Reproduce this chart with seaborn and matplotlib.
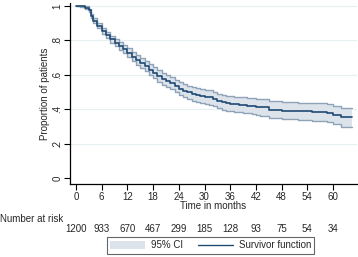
import matplotlib as mpl

mpl.use('Agg')
import matplotlib.pyplot as plt
import seaborn as sns
import pandas as pd
from matplotlib.patches import Patch
from matplotlib.lines import Line2D

# Kaplan-Meier estimate
months = [0, 1, 2, 3, 3.5, 4, 5, 6, 7, 8, 9, 10, 11, 12, 13, 14, 15, 16, 17, 18,
          19, 20, 21, 22, 23, 24, 25, 26, 27, 28, 29, 30, 31, 32, 33, 34, 35, 36,
          37, 38, 39, 40, 41, 42, 43, 45, 48, 51.8, 55, 58.5, 60.1, 61.9, 64.4]
survival = [1.0, 0.997, 0.990, 0.975, 0.940, 0.915, 0.885, 0.855, 0.830, 0.805,
            0.787, 0.768, 0.748, 0.728, 0.706, 0.686, 0.667, 0.649, 0.629, 0.611,
            0.593, 0.576, 0.563, 0.552, 0.535, 0.520, 0.507, 0.498, 0.489, 0.482,
            0.477, 0.472, 0.468, 0.458, 0.446, 0.439, 0.434, 0.431, 0.428, 0.426,
            0.424, 0.421, 0.418, 0.412, 0.410, 0.397, 0.390, 0.387, 0.382, 0.378,
            0.366, 0.352, 0.352]
ci_halfwidth = [0.0, 0.004, 0.007, 0.010, 0.012, 0.013, 0.015, 0.017, 0.019, 0.020,
                0.022, 0.023, 0.024, 0.026, 0.027, 0.028, 0.029, 0.030, 0.031, 0.032,
                0.033, 0.034, 0.035, 0.036, 0.036, 0.037, 0.038, 0.038, 0.039, 0.039,
                0.040, 0.040, 0.041, 0.041, 0.042, 0.042, 0.043, 0.043, 0.044, 0.044,
                0.045, 0.045, 0.046, 0.046, 0.047, 0.048, 0.049, 0.050, 0.051, 0.052,
                0.053, 0.055, 0.055]
lower = [s - h for s, h in zip(survival, ci_halfwidth)]
upper = [s + h for s, h in zip(survival, ci_halfwidth)]

risk_times = [0, 6, 12, 18, 24, 30, 36, 42, 48, 54, 60]
at_risk = [1200, 933, 670, 467, 299, 185, 128, 93, 75, 54, 34]

line_color = '#1f4a73'
band_color = '#dde3ea'
band_edge = '#8fa3b8'

sns.set_style('white')
plt.rcParams['font.family'] = ['Liberation Sans', 'DejaVu Sans']
plt.rcParams['font.size'] = 7

df = pd.DataFrame({'months': months, 'survival': survival})

fig = plt.figure(figsize=(3.58, 2.57), dpi=100)
ax = fig.add_axes([70 / 358, 1 - 184 / 257, 287 / 358, 181 / 257])

for y in [0.2, 0.4, 0.6, 0.8, 1.0]:
    ax.axhline(y, color='#e6eff1', lw=0.8, zorder=0)

ax.fill_between(months, lower, upper, step='post', color=band_color, lw=0, zorder=1)
ax.step(months, lower, where='post', color=band_edge, lw=1.0, zorder=2)
ax.step(months, upper, where='post', color=band_edge, lw=1.0, zorder=2)
sns.lineplot(data=df, x='months', y='survival', ax=ax, color=line_color, lw=1.2,
             drawstyle='steps-post', zorder=3)

ax.set_xlim(-1.4, 65.6)
ax.set_ylim(-0.035, 1.017)
ax.set_xticks(risk_times)
ax.set_yticks([0, 0.2, 0.4, 0.6, 0.8, 1.0])
ax.set_yticklabels(['0', '.2', '.4', '.6', '.8', '1'], rotation=90, va='center')
ax.tick_params(axis='both', direction='out', length=4, width=0.8, color='black',
               labelsize=7, pad=2, left=True, bottom=True)
ax.tick_params(axis='y', pad=1.5)
for side in ['top', 'right']:
    ax.spines[side].set_visible(False)
for side in ['left', 'bottom']:
    ax.spines[side].set_color('black')
    ax.spines[side].set_linewidth(0.9)

ax.set_xlabel('Time in months', fontsize=7)
ax.xaxis.set_label_coords(0.5, -0.095)
ax.set_ylabel('Proportion of patients', fontsize=7)
ax.yaxis.set_label_coords(-0.068, 0.5)

fig.text(0.0, 1 - 219 / 257, 'Number at risk', fontsize=7, ha='left', va='center')
for t, n in zip(risk_times, at_risk):
    x_fig = (70 + (t + 1.4) / 67.0 * 287) / 358
    fig.text(x_fig, 1 - 229 / 257, str(n), fontsize=7, ha='center', va='center')

handles = [Patch(facecolor=band_color, edgecolor='none'),
           Line2D([], [], color=line_color, lw=1.0)]
leg = fig.legend(handles, ['95% CI', 'Survivor function'], ncol=2,
                 loc='upper left', bbox_to_anchor=(107 / 358, 1 - 237 / 257),
                 frameon=True, fancybox=False, fontsize=7, handlelength=3.6,
                 handleheight=1.0, handletextpad=0.6, columnspacing=1.5,
                 borderpad=0.35, borderaxespad=0)
leg.get_frame().set_edgecolor('#404040')
leg.get_frame().set_linewidth(0.8)

fig.savefig('out.png', dpi=100, facecolor='white')
